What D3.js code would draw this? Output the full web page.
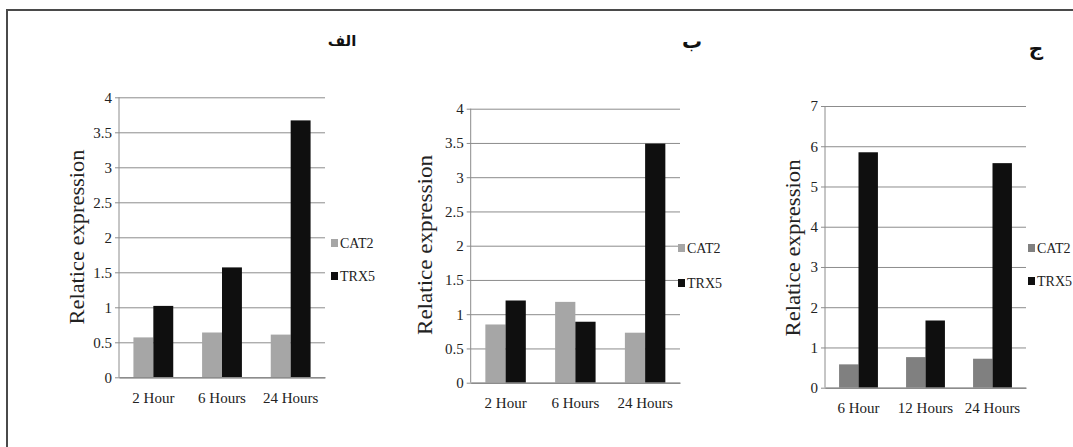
<!DOCTYPE html>
<html>
  <head>
    <meta charset='utf-8'>
    <title></title>
    <script src='https://d3js.org/d3.v7.min.js'></script>
    <style>
      body { margin: 0; background: #fff; }
      svg { display: block; }
      .ttl { font-family: 'DejaVu Sans', sans-serif; font-weight: bold; fill: #111; }
    </style>
  </head>
  <body>
  <script type='text/javascript'>

    // panel الف
    var categoriesA = ['2 Hour', '6 Hours', '24 Hours'];
    var cat2A = [0.57, 0.64, 0.61];
    var trx5A = [1.02, 1.57, 3.67];
    var ticksA = [0, 0.5, 1, 1.5, 2, 2.5, 3, 3.5, 4];

    // panel ب
    var categoriesB = ['2 Hour', '6 Hours', '24 Hours'];
    var cat2B = [0.85, 1.18, 0.73];
    var trx5B = [1.20, 0.89, 3.49];
    var ticksB = [0, 0.5, 1, 1.5, 2, 2.5, 3, 3.5, 4];

    // panel ج
    var categoriesC = ['6 Hour', '12 Hours', '24 Hours'];
    var cat2C = [0.58, 0.76, 0.72];
    var trx5C = [5.85, 1.67, 5.58];
    var ticksC = [0, 1, 2, 3, 4, 5, 6, 7];

    var seriesNames = ['CAT2', 'TRX5'];

    var serif = "'Liberation Serif', 'Times New Roman', Times, 'DejaVu Serif', serif";

    var width = 1073;
    var height = 447;

    var svg = d3.select('body')
              .append('svg')
              .attr('width', width)
              .attr('height', height);

    // frame (top + left only)
    svg.append('path')
      .attr('d', 'M7,447 L7,10 L1073,10')
      .attr('fill', 'none')
      .attr('stroke', '#4a4a4a')
      .attr('stroke-width', 2);

    function drawPanel(p) {
      var x = d3.scaleBand()
                .domain(p.categories)
                .range([p.left, p.right])
                .paddingInner(0.42)
                .paddingOuter(0.21);

      var xs = d3.scaleBand()
                .domain(seriesNames)
                .range([0, x.bandwidth()]);

      var y = d3.scaleLinear()
                .domain([0, d3.max(p.ticks)])
                .range([p.bottom, p.top]);

      var colors = { 'CAT2': p.cat2Color, 'TRX5': '#0f0f0f' };

      // gridlines + y labels
      var gy = svg.append('g')
        .attr('transform', 'translate(' + p.left + ',0)')
        .call(d3.axisLeft(y).tickValues(p.ticks).tickSize(-(p.right - p.left)).tickSizeOuter(0).tickPadding(7).tickFormat(d3.format('')));
      gy.attr('font-family', serif).attr('font-size', 15);
      gy.select('.domain').remove();
      gy.selectAll('.tick line')
        .attr('stroke', '#8c8c8c')
        .attr('x1', -4);
      gy.selectAll('.tick text').attr('fill', '#222');

      // y axis line
      svg.append('line')
        .attr('x1', p.left).attr('x2', p.left)
        .attr('y1', p.top).attr('y2', p.bottom)
        .attr('stroke', '#8c8c8c');

      var rows = p.categories.map(function(c, i) {
        return { cat: c, vals: [p.cat2[i], p.trx5[i]] };
      });

      var g = svg.selectAll(null)
        .data(rows)
        .enter().append('g')
        .attr('transform', function(d) { return 'translate(' + x(d.cat) + ',0)'; });

      g.selectAll('rect')
        .data(function(d) { return d.vals.map(function(v, i) { return { name: seriesNames[i], value: v }; }); })
        .enter().append('rect')
        .attr('x', function(d) { return xs(d.name); })
        .attr('width', xs.bandwidth())
        .attr('y', function(d) { return y(d.value); })
        .attr('height', function(d) { return p.bottom - y(d.value); })
        .attr('fill', function(d) { return colors[d.name]; });

      // x axis
      var gx = svg.append('g')
        .attr('transform', 'translate(0,' + p.bottom + ')')
        .call(d3.axisBottom(x).tickSize(0).tickPadding(15));
      gx.attr('font-family', serif).attr('font-size', 15);
      gx.select('.domain').attr('stroke', '#8c8c8c').attr('stroke-width', 1.5);
      gx.selectAll('.tick text').attr('fill', '#222');

      // y title
      svg.append('text')
        .attr('transform', 'translate(' + p.titleX + ',' + p.titleY + ') rotate(-90)')
        .attr('text-anchor', 'middle')
        .attr('dy', '0.35em')
        .attr('textLength', p.titleLen)
        .attr('lengthAdjust', 'spacingAndGlyphs')
        .attr('font-family', serif)
        .attr('font-size', 20)
        .attr('fill', '#222')
        .text('Relatice expression');

      // panel label
      svg.append('text')
        .attr('class', 'ttl')
        .attr('x', p.labelX)
        .attr('y', p.labelY)
        .attr('text-anchor', 'middle')
        .attr('dy', '0.35em')
        .style('font-size', p.labelSize + 'px')
        .text(p.label);

      // legend
      var lg = svg.selectAll(null)
        .data(seriesNames)
        .enter().append('g')
        .attr('transform', function(d, i) { return 'translate(' + p.legX + ',' + p.legY[i] + ')'; });
      lg.append('rect')
        .attr('x', 0).attr('y', -4)
        .attr('width', 7).attr('height', 8)
        .attr('fill', function(d) { return colors[d]; });
      lg.append('text')
        .attr('x', 9)
        .attr('dy', '0.35em')
        .attr('font-family', serif)
        .attr('font-size', 14)
        .attr('fill', '#222')
        .text(function(d) { return d; });
    }

    drawPanel({
      categories: categoriesA, cat2: cat2A, trx5: trx5A, ticks: ticksA,
      left: 119, right: 325, top: 97.3, bottom: 377.3,
      cat2Color: '#a6a6a6',
      titleX: 77, titleY: 237, titleLen: 175,
      label: 'الف', labelX: 342, labelY: 41, labelSize: 15,
      legX: 331, legY: [243, 276]
    });

    drawPanel({
      categories: categoriesB, cat2: cat2B, trx5: trx5B, ticks: ticksB,
      left: 470.7, right: 680, top: 108.7, bottom: 382.7,
      cat2Color: '#a6a6a6',
      titleX: 425, titleY: 245, titleLen: 180,
      label: 'ب', labelX: 692, labelY: 41, labelSize: 20,
      legX: 678, legY: [248, 283]
    });

    drawPanel({
      categories: categoriesC, cat2: cat2C, trx5: trx5C, ticks: ticksC,
      left: 825, right: 1026, top: 106, bottom: 387.7,
      cat2Color: '#808080',
      titleX: 793, titleY: 248, titleLen: 177,
      label: 'ج', labelX: 1036, labelY: 48, labelSize: 20,
      legX: 1028, legY: [248, 281]
    });

  </script>
  </body>
</html>
